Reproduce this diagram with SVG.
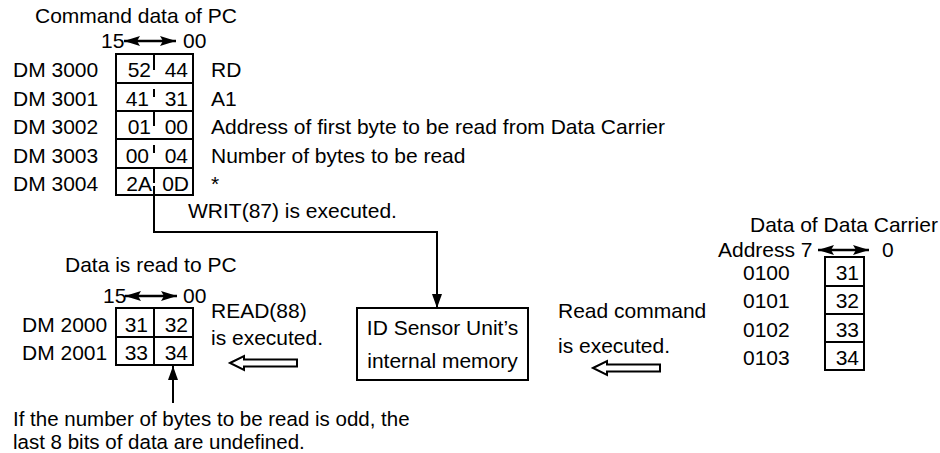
<svg xmlns="http://www.w3.org/2000/svg" width="940" height="453" viewBox="0 0 940 453">
<style>
text{font-family:"Liberation Sans",Arial,sans-serif;font-size:21px;fill:#000}
.e{text-anchor:end}
.m{text-anchor:middle}
.note{font-size:20.5px}
.box{fill:none;stroke:#000;stroke-width:2}
.ln{fill:none;stroke:#000;stroke-width:2}
.dbl{fill:none;stroke:#000;stroke-width:2.5}
.hollow{fill:#fff;stroke:#000;stroke-width:2;stroke-linejoin:miter}
</style>
<defs>
<marker id="ah" viewBox="0 0 14 10" refX="14" refY="5" markerWidth="14" markerHeight="10" markerUnits="userSpaceOnUse" orient="auto-start-reverse">
<path d="M0,0 L14,5 L0,10 Z" fill="#000"/>
</marker>
<marker id="dh" viewBox="0 0 16 10" refX="16" refY="5" markerWidth="16" markerHeight="10" markerUnits="userSpaceOnUse" orient="auto-start-reverse">
<path d="M0,0 L16,5 L0,10 L3,5 Z" fill="#000"/>
</marker>
</defs>
<rect width="940" height="453" fill="#fff"/>

<g id="cmd-table">
<text x="35" y="23">Command data of PC</text>
<text x="101" y="48">15</text>
<text x="183" y="48">00</text>
<line class="dbl" x1="124" y1="41" x2="176" y2="41" marker-start="url(#dh)" marker-end="url(#dh)"/>
<rect class="box" x="116" y="54" width="77" height="141"/>
<path class="ln" d="M116,83H193M116,111H193M116,139H193M116,168H193"/>
<path class="ln" d="M154,54V70M154,89V97M154,111V126M154,145V153M154,168V183"/>
<text x="13" y="77">DM 3000</text>
<text x="13" y="106">DM 3001</text>
<text x="13" y="134">DM 3002</text>
<text x="13" y="163">DM 3003</text>
<text x="13" y="191">DM 3004</text>
<text class="e" x="151" y="77">52</text><text class="e" x="188" y="77">44</text>
<text class="e" x="149" y="106">41</text><text class="e" x="188" y="106">31</text>
<text class="e" x="151" y="134">01</text><text class="e" x="188" y="134">00</text>
<text class="e" x="149" y="163">00</text><text class="e" x="188" y="163">04</text>
<text class="e" x="152" y="191">2A</text><text class="e" x="189" y="191">0D</text>
<text x="211" y="77">RD</text>
<text x="211" y="106">A1</text>
<text x="211" y="134">Address of first byte to be read from Data Carrier</text>
<text x="211" y="163">Number of bytes to be read</text>
<text x="211" y="191">*</text>
</g>

<g id="pc-table">
<text x="65" y="272">Data is read to PC</text>
<text x="103" y="303">15</text>
<text x="183" y="303">00</text>
<line class="dbl" x1="125" y1="296" x2="177" y2="296" marker-start="url(#dh)" marker-end="url(#dh)"/>
<rect class="box" x="116" y="308" width="77" height="57"/>
<path class="ln" d="M116,337H193M154,308V365"/>
<text x="22" y="332">DM 2000</text>
<text x="22" y="360">DM 2001</text>
<text class="e" x="148" y="332">31</text><text class="e" x="188" y="332">32</text>
<text class="e" x="148" y="360">33</text><text class="e" x="188" y="360">34</text>
<text x="211" y="318">READ(88)</text>
<text x="211" y="345">is executed.</text>
</g>

<g id="id-memory">
<rect class="box" x="357" y="308" width="171" height="72"/>
<text class="m" x="442.5" y="335">ID Sensor Unit’s</text>
<text class="m" x="442.5" y="368">internal memory</text>
</g>

<g id="carrier-table">
<text x="750" y="232">Data of Data Carrier</text>
<text x="718" y="257">Address 7</text>
<text x="882" y="257">0</text>
<line class="dbl" x1="818" y1="250" x2="869" y2="250" marker-start="url(#dh)" marker-end="url(#dh)"/>
<rect class="box" x="825" y="257" width="39" height="113"/>
<path class="ln" d="M825,286H864M825,314H864M825,342H864"/>
<text x="743" y="280">0100</text>
<text x="743" y="308">0101</text>
<text x="743" y="337">0102</text>
<text x="743" y="365">0103</text>
<text class="e" x="859" y="280">31</text>
<text class="e" x="859" y="308">32</text>
<text class="e" x="859" y="337">33</text>
<text class="e" x="859" y="365">34</text>
<text x="558" y="318">Read command</text>
<text x="558" y="353">is executed.</text>
</g>

<g id="connectors">
<path class="ln" d="M154,186V232H437V308" marker-end="url(#ah)"/>
<text x="188" y="218">WRIT(87) is executed.</text>
<path class="hollow" d="M230,363L244,356L244,359.5L297,359.5L297,366.5L244,366.5L244,370Z"/>
<path class="hollow" d="M593,368L607,361L607,364.5L660,364.5L660,371.5L607,371.5L607,375Z"/>
<line class="ln" x1="173" y1="403" x2="173" y2="366" marker-end="url(#ah)"/>
</g>

<g id="note">
<text class="note" x="13" y="426">If the number of bytes to be read is odd, the</text>
<text class="note" x="13" y="448.5">last 8 bits of data are undefined.</text>
</g>
</svg>
